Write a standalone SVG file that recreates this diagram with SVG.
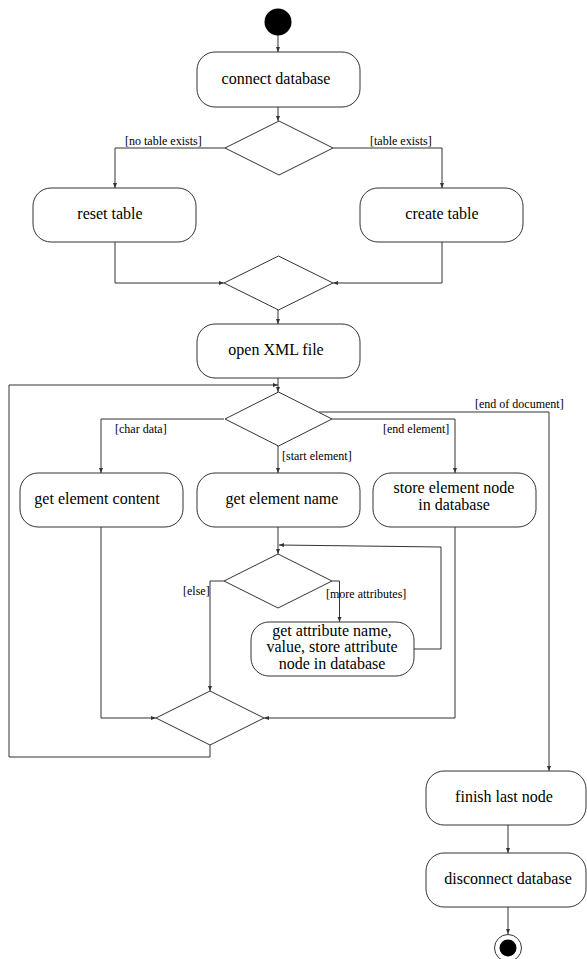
<svg xmlns="http://www.w3.org/2000/svg" width="587" height="959" viewBox="0 0 587 959">
<style>
.box{fill:#fff;stroke:#333;stroke-width:1}
.dia{fill:#fff;stroke:#333;stroke-width:1}
.ln{fill:none;stroke:#333;stroke-width:1}
.t{font-family:"Liberation Serif","Times New Roman",serif;font-size:16px;fill:#000;text-anchor:middle}
.g{font-family:"Liberation Serif","Times New Roman",serif;font-size:12px;fill:#000}
</style>
<defs>
<marker id="ah" markerUnits="userSpaceOnUse" markerWidth="6" markerHeight="5" refX="5" refY="2" orient="auto">
<path d="M0,0 L5,2 L0,4 z" fill="#333"/>
</marker>
</defs>
<rect width="587" height="959" fill="#fff"/>
<g id="connectors">
<path class="ln" d="M278,35 V52" marker-end="url(#ah)"/>
<path class="ln" d="M278,107 V121" marker-end="url(#ah)"/>
<path class="ln" d="M225,148 H115 V188" marker-end="url(#ah)"/>
<path class="ln" d="M333,148 H442 V188" marker-end="url(#ah)"/>
<path class="ln" d="M115,242 V283 H224" marker-end="url(#ah)"/>
<path class="ln" d="M442,242 V283 H333" marker-end="url(#ah)"/>
<path class="ln" d="M278,310 V324" marker-end="url(#ah)"/>
<path class="ln" d="M278,378 V392" marker-end="url(#ah)"/>
<path class="ln" d="M224,419 H101 V473" marker-end="url(#ah)"/>
<path class="ln" d="M278,446 V473" marker-end="url(#ah)"/>
<path class="ln" d="M332,419 H455 V473" marker-end="url(#ah)"/>
<path class="ln" d="M319,412 H549 V771" marker-end="url(#ah)"/>
<path class="ln" d="M278,527 V554" marker-end="url(#ah)"/>
<path class="ln" d="M224,581 H210 V691" marker-end="url(#ah)"/>
<path class="ln" d="M332,581 H339.5 V622" marker-end="url(#ah)"/>
<path class="ln" d="M413,649 H441 V547 L279,545" marker-end="url(#ah)"/>
<path class="ln" d="M101,527 V718 H156" marker-end="url(#ah)"/>
<path class="ln" d="M455,527 V718 H264" marker-end="url(#ah)"/>
<path class="ln" d="M210,745 V757 H9 V385 H278" marker-end="url(#ah)"/>
<path class="ln" d="M508,825 V853" marker-end="url(#ah)"/>
<path class="ln" d="M508,907 V934" marker-end="url(#ah)"/>
<text class="g" x="125" y="145">[no table exists]</text>
<text class="g" x="370" y="145">[table exists]</text>
<text class="g" x="115" y="433">[char data]</text>
<text class="g" x="282" y="460">[start element]</text>
<text class="g" x="383" y="433">[end element]</text>
<text class="g" x="475" y="408">[end of document]</text>
<text class="g" x="183" y="595">[else]</text>
<text class="g" x="326" y="598">[more attributes]</text>
</g>
<g id="start"><circle cx="278" cy="22" r="13.5" fill="#000"/></g>
<g id="connect-database"><rect class="box" x="197" y="52" width="163" height="55" rx="18" ry="18"/><text class="t" x="276" y="84">connect database</text></g>
<g id="decision-table"><polygon class="dia" points="279,121 333,148 279,175 225,148"/></g>
<g id="reset-table"><rect class="box" x="33" y="188" width="163" height="54" rx="18" ry="18"/><text class="t" x="110" y="219">reset table</text></g>
<g id="create-table"><rect class="box" x="360" y="188" width="163" height="54" rx="18" ry="18"/><text class="t" x="442" y="219">create table</text></g>
<g id="merge-table"><polygon class="dia" points="278.5,256 333,283 278.5,310 224,283"/></g>
<g id="open-xml-file"><rect class="box" x="197" y="324" width="163" height="54" rx="18" ry="18"/><text class="t" x="276" y="355">open XML file</text></g>
<g id="decision-event"><polygon class="dia" points="278.5,392 332,419 278.5,446 225,419"/></g>
<g id="get-element-content"><rect class="box" x="20" y="473" width="163" height="54" rx="18" ry="18"/><text class="t" x="97" y="504">get element content</text></g>
<g id="get-element-name"><rect class="box" x="197" y="473" width="163" height="54" rx="18" ry="18"/><text class="t" x="282" y="504">get element name</text></g>
<g id="store-element-node"><rect class="box" x="373" y="473" width="163" height="54" rx="18" ry="18"/><text class="t" x="454" y="493">store element node</text><text class="t" x="454" y="510">in database</text></g>
<g id="decision-attributes"><polygon class="dia" points="278,554 332,581 278,608 224,581"/></g>
<g id="get-attribute"><rect class="box" x="251" y="622" width="163" height="54" rx="18" ry="18"/><text class="t" x="332" y="636">get attribute name,</text><text class="t" x="332" y="652">value, store attribute</text><text class="t" x="332" y="669">node in database</text></g>
<g id="merge-event"><polygon class="dia" points="210,691 264,718 210,745 156,718"/></g>
<g id="finish-last-node"><rect class="box" x="426" y="771" width="160" height="54" rx="18" ry="18"/><text class="t" x="504" y="802">finish last node</text></g>
<g id="disconnect-database"><rect class="box" x="426" y="853" width="160" height="54" rx="18" ry="18"/><text class="t" x="508" y="884">disconnect database</text></g>
<g id="end"><circle cx="508" cy="948" r="13.5" fill="#fff" stroke="#333" stroke-width="1"/><circle cx="508" cy="948" r="8.5" fill="#000"/></g>
</svg>
